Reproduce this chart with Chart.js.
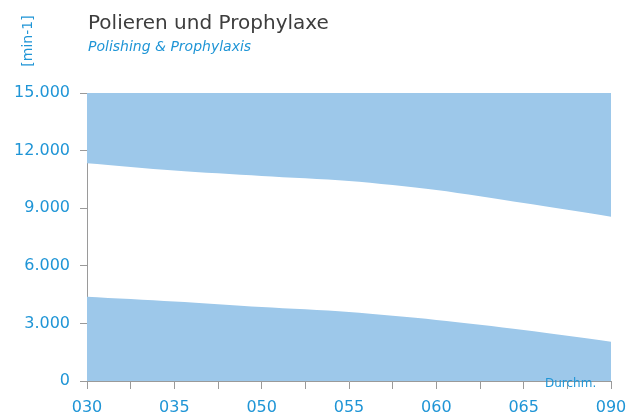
<!DOCTYPE html>
<html lang="de">
<head>
  <meta charset="UTF-8">
  <title>Polieren und Prophylaxe</title>
  <script src="https://cdn.jsdelivr.net/npm/chart.js"></script>
  <style>
    body {
      margin: 0;
      width: 637px;
      height: 420px;
      background: #ffffff;
      font-family: 'DejaVu Sans', sans-serif;
      position: relative;
      overflow: hidden;
    }
    #wrap { position: absolute; left: 0; top: 0; width: 637px; height: 420px; }
    .title {
      position: absolute; left: 88px; top: 10px;
      font-size: 20px; color: #3d3d3d;
    }
    .subtitle {
      position: absolute; left: 88px; top: 38px;
      font-size: 14px; font-style: italic; color: #1f95d6;
    }
    .unit {
      position: absolute; left: 1px; top: 33px;
      font-size: 14px; color: #1f95d6;
      transform: rotate(-90deg);
      transform-origin: center;
    }
    .xname {
      position: absolute; left: 545px; top: 376px;
      font-size: 12px; color: #1f95d6;
    }
  </style>
</head>
<body>
  <div id="wrap"><canvas id="mainChart" width="637" height="420"></canvas></div>
  <div class="title">Polieren und Prophylaxe</div>
  <div class="subtitle">Polishing &amp; Prophylaxis</div>
  <div class="unit">[min-1]</div>
  <div class="xname">Durchm.</div>

  <script>
    // diameters along the x axis (one label every second tick)
    const sizes = ['030', '035', '050', '055', '060', '065', '090'];
    const positions = [0, 2, 4, 6, 8, 10, 12];
    // max speed (lower edge of the upper band) and min speed (top of lower band)
    const maxSpeed = [11340, 10960, 10680, 10420, 9950, 9270, 8560];
    const minSpeed = [4390, 4140, 3850, 3590, 3180, 2660, 2050];
    const yTicks = [0, 3000, 6000, 9000, 12000, 15000];

    const blue = '#1f95d6';
    const band = '#9dc8ea';

    const ctx = document.getElementById('mainChart').getContext('2d');
    new Chart(ctx, {
      type: 'line',
      data: {
        datasets: [{
          data: positions.map((x, i) => ({ x: x, y: maxSpeed[i] })),
          borderWidth: 0,
          pointRadius: 0,
          tension: 0.3,
          backgroundColor: band,
          fill: 'end'
        }, {
          data: positions.map((x, i) => ({ x: x, y: minSpeed[i] })),
          borderWidth: 0,
          pointRadius: 0,
          tension: 0.3,
          backgroundColor: band,
          fill: 'origin'
        }]
      },
      options: {
        responsive: false,
        animation: false,
        layout: { padding: { left: 0, top: 93, right: 26, bottom: 0 } },
        plugins: { legend: { display: false }, tooltip: { enabled: false } },
        scales: {
          x: {
            type: 'linear',
            min: 0,
            max: 12,
            afterFit: s => { s.height = 39; },
            grid: { drawOnChartArea: false, color: '#9a9a9a', tickLength: 8 },
            border: { color: '#9a9a9a' },
            ticks: {
              stepSize: 1,
              autoSkip: false,
              maxRotation: 0,
              padding: 9,
              color: blue,
              font: { family: 'DejaVu Sans', size: 16 },
              callback: v => {
                const i = positions.indexOf(v);
                return i >= 0 ? sizes[i] : '';
              }
            }
          },
          y: {
            min: 0,
            max: 15000,
            afterFit: s => { s.width = 87; },
            afterBuildTicks: s => { s.ticks = yTicks.map(v => ({ value: v })); },
            grid: { drawOnChartArea: false, color: '#9a9a9a', tickLength: 7 },
            border: { color: '#9a9a9a' },
            ticks: {
              padding: 10,
              color: blue,
              font: { family: 'DejaVu Sans', size: 16 },
              callback: v => v === 0 ? '0' : (v / 1000).toFixed(0) + '.000'
            }
          }
        }
      }
    });
  </script>
</body>
</html>
